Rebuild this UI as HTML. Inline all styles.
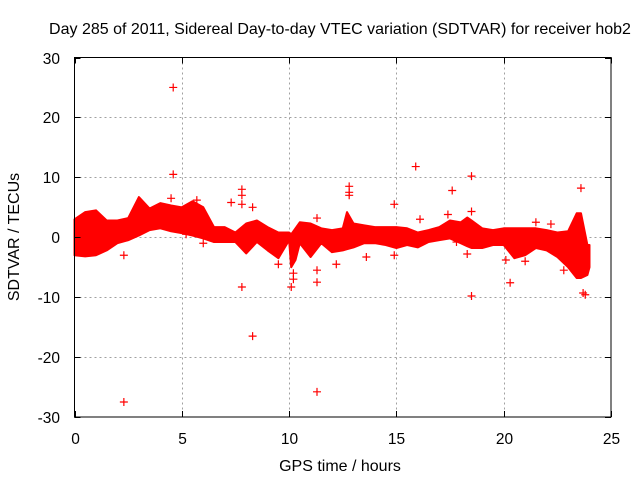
<!DOCTYPE html>
<html><head><meta charset="utf-8"><style>
html,body{margin:0;padding:0;background:#fff}
svg{display:block;font-family:"Liberation Sans",sans-serif}
</style></head><body>
<svg id="chart" width="640" height="480" viewBox="0 0 640 480" xmlns="http://www.w3.org/2000/svg">
<text x="340" y="34" font-size="16" text-anchor="middle" fill="#000">Day 285 of 2011, Sidereal Day-to-day VTEC variation (SDTVAR) for receiver hob2</text>
<text x="340" y="471" font-size="16" text-anchor="middle" fill="#000">GPS time / hours</text>
<text transform="translate(19,237) rotate(-90)" font-size="16" text-anchor="middle" fill="#000">SDTVAR / TECUs</text>
<g id="grid"></g>
<g id="band"></g>
<g id="points"></g>
<g id="axes"></g>
</svg>
<script>
const xTicks = [0, 5, 10, 15, 20, 25];
const yTicks = [-30, -20, -10, 0, 10, 20, 30];
const bandTimes = [0,0.5,1,1.5,2,2.5,3,3.5,4,4.5,5,5.5,6,6.5,7,7.5,8,8.5,9,9.5,10,10.1,10.3,10.5,11,11.5,12,12.5,12.7,13,13.5,14,14.5,15,15.5,16,16.5,17,17.5,18,18.3,18.5,19,19.5,20,20.5,21,21.5,22,22.5,23,23.4,23.6,23.9,24];
const bandUpper = [3,4.2,4.5,2.8,2.8,3.2,6.7,4.8,5.7,5.3,5,6,5,1.7,1.7,0.8,2.3,2.8,1.7,0.8,0.8,0.5,1.5,2.5,2.3,1.5,1.2,1.5,4.2,2.3,2,1.7,1.7,1.7,1.5,0.8,1.2,1.7,2.8,2.5,3.3,2.8,1.5,1.2,1.5,1.5,1.5,1.5,1.2,0.8,1,4,4,-1.3,-1.3];
const bandLower = [-3,-3.2,-3,-2.2,-1,-0.5,0.3,1.2,1.5,1,0.7,0.3,-0.2,-0.8,-0.8,-0.8,-2.7,-0.8,-2.2,-3.5,-0.5,-5,-3.8,-1,-3.3,-1,-2.5,-2.2,-2,-1.7,-1,-1,-1.3,-1.8,-1.3,-1.7,-0.8,-0.5,-0.2,-1,-1.5,-1.8,-1.8,-1.3,-1.3,-3.5,-3,-1.8,-2.2,-3.3,-5,-6.8,-6.8,-6.3,-5];
const outlierTimes = [2.3,4.6,4.6,4.5,2.3,5.2,6,5.7,7.8,7.8,7.8,7.8,8.3,8.3,7.3,10.1,9.5,11.3,11.3,11.3,12.2,12.8,12.8,12.8,13.6,14.9,14.9,15.9,16.1,16.1,17.4,17.6,18.5,18.5,18.5,18.3,20.3,20.1,21.5,22.2,22.8,23.6,23.7,23.8,21,17.8,10.2,10.2,11.3];
const outlierValues = [-27.5,25,10.5,6.5,-3,0.5,-1,6.2,-8.3,7,8,5.5,-16.5,5,5.8,-8.3,-4.5,-25.8,3.2,-7.5,-4.5,8.5,7.5,7,-3.3,5.5,-3,11.8,-0.5,3,3.8,7.8,10.2,4.3,-9.8,-2.8,-7.6,-3.8,2.5,2.2,-5.5,8.2,-9.3,-9.6,-4,-0.8,-6,-7,-5.5];

const X0=74.5, X1=611, Y0=417, Y1=57.5;
const xs = t => X0 + (t-0)/(25-0)*(X1-X0);
const ys = v => Y0 - (v+30)/60*(Y0-Y1);
const NS="http://www.w3.org/2000/svg";
function mk(tag, attrs, parent){const e=document.createElementNS(NS,tag);for(const k in attrs)e.setAttribute(k,attrs[k]);parent.appendChild(e);return e;}
const grid=document.getElementById('grid'), axes=document.getElementById('axes');
xTicks.forEach(t=>{
  const x=Math.round(xs(t))+0.5;
  if(t>0&&t<25){const g=mk('line',{x1:x,x2:x,y1:Y1,y2:Y0,stroke:'#a0a0a0','stroke-dasharray':'2,3'},grid);
  
  }
  mk('line',{x1:x,x2:x,y1:Y0,y2:Y0-6,stroke:'#000'},axes);
  mk('line',{x1:x,x2:x,y1:Y1,y2:Y1+6,stroke:'#000'},axes);
  const l=mk('text',{x:x,y:444,'font-size':15.5,'text-anchor':'middle',fill:'#000'},axes);
  l.textContent=t;
  
  
});
yTicks.forEach(v=>{
  const y=Math.round(ys(v))+0.5;
  if(v>-30&&v<30){const g=mk('line',{x1:X0,x2:X1,y1:y,y2:y,stroke:'#a0a0a0','stroke-dasharray':'2,3'},grid);
  
  }
  mk('line',{x1:X0,x2:X0+6,y1:y,y2:y,stroke:'#000'},axes);
  mk('line',{x1:X1,x2:X1-6,y1:y,y2:y,stroke:'#000'},axes);
  const l=mk('text',{x:60,y:y+5.5,'font-size':15.5,'text-anchor':'end',fill:'#000'},axes);
  l.textContent=v;
  
  
});
const border=mk('rect',{x:X0,y:Y1,width:X1-X0,height:Y0-Y1,fill:'none',stroke:'#000'},axes);


let pts=[];
bandTimes.forEach((t,i)=>pts.push(xs(t).toFixed(1)+','+ys(bandUpper[i]).toFixed(1)));
for(let i=bandTimes.length-1;i>=0;i--)pts.push(xs(bandTimes[i]).toFixed(1)+','+ys(bandLower[i]).toFixed(1));
const band=mk('polygon',{points:pts.join(' '),fill:'#ff0000',stroke:'#ff0000','stroke-width':2,'stroke-linejoin':'round'},document.getElementById('band'));


const pg=document.getElementById('points');
outlierTimes.forEach((t,i)=>{
  const x=xs(t), y=ys(outlierValues[i]);
  const p=mk('path',{d:`M${x-4},${y}H${x+4}M${x},${y-4}V${y+4}`,stroke:'#ff0000','stroke-width':1.2,fill:'none'},pg);
  
  
});
</script>
</body></html>
